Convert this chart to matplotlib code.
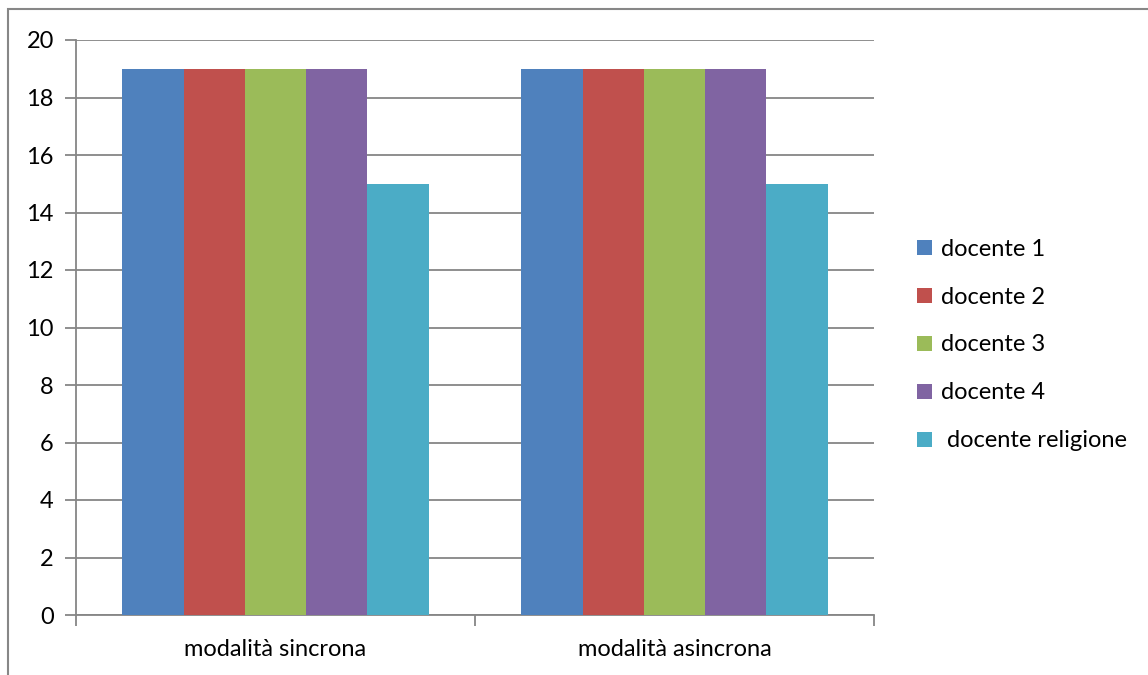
import matplotlib
matplotlib.use("Agg")
import matplotlib.pyplot as plt
from matplotlib.patches import Patch, Rectangle
import numpy as np

plt.rcParams['font.family'] = ['Lato', 'DejaVu Sans']

categories = ["modalità sincrona", "modalità asincrona"]
series_names = ["docente 1", "docente 2", "docente 3", "docente 4", " docente religione"]
values = [
    [19, 19],
    [19, 19],
    [19, 19],
    [19, 19],
    [15, 15],
]
colors = ["#4F81BD", "#C0504D", "#9BBB59", "#8064A2", "#4BACC6"]
y_ticks = [0, 2, 4, 6, 8, 10, 12, 14, 16, 18, 20]

W, H = 1148, 675
fig = plt.figure(figsize=(W / 100, H / 100), dpi=100)
ax = fig.add_axes([76 / W, 1 - 615 / H, (874 - 76) / W, (615 - 40) / H])

grid_c = "#868686"
fs = 17
x = np.arange(len(categories))
bw = 0.1534
n = len(series_names)
for i, (name, vals, c) in enumerate(zip(series_names, values, colors)):
    offs = (i - (n - 1) / 2) * bw
    ax.bar(x + offs, vals, width=bw, color=c, label=name, zorder=3, edgecolor="none")

ax.set_xlim(-0.5, len(categories) - 0.5)
ax.set_ylim(0, 20)
ax.set_yticks(y_ticks)
ax.set_yticklabels([str(t) for t in y_ticks])
ax.yaxis.grid(True, color=grid_c, linewidth=1.3, zorder=0)
ax.set_axisbelow(True)

ax.set_xticks(x)
ax.set_xticklabels(categories)
ax.set_xticks(np.arange(-0.5, len(categories), 1.0), minor=True)
ax.tick_params(axis="x", which="major", length=0, pad=17, labelsize=fs)
ax.tick_params(axis="x", which="minor", length=8, color=grid_c, width=1.3)
ax.tick_params(axis="y", length=8, color=grid_c, width=1.3, pad=8, labelsize=fs)

for s in ["top", "right"]:
    ax.spines[s].set_visible(False)
for s in ["left", "bottom"]:
    ax.spines[s].set_color(grid_c)
    ax.spines[s].set_linewidth(1.3)

handles = [Patch(facecolor=c, edgecolor="none") for c in colors]
fig.legend(handles, series_names, loc="center left",
           bbox_to_anchor=(908 / W, 1 - 345 / H), frameon=False,
           fontsize=fs, handlelength=0.6, handleheight=0.6,
           handletextpad=0.4, labelspacing=1.14, borderaxespad=0)

fig.patches.append(Rectangle((8 / W, -0.05), 1.1, 1 - 9 / H + 0.05,
                             transform=fig.transFigure, fill=False,
                             edgecolor="#878787", linewidth=1.5))

fig.savefig("out.png", dpi=100)
